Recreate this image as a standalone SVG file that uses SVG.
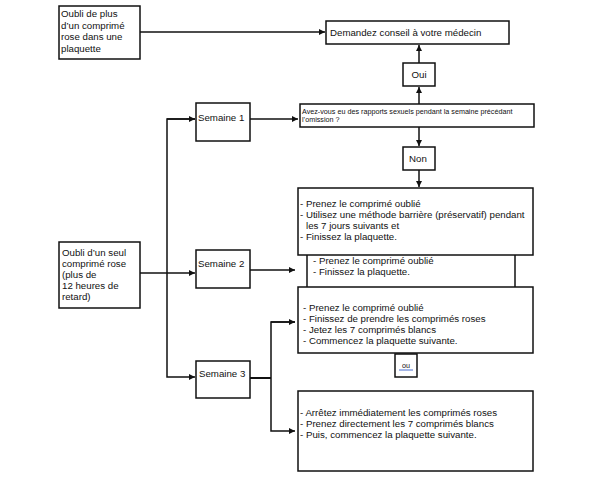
<svg xmlns="http://www.w3.org/2000/svg" width="605" height="494" viewBox="0 0 605 494">
<style>
.box{fill:#fff;stroke:#111;stroke-width:1.5}
.t{font-family:"Liberation Sans",Arial,sans-serif;font-size:9.7px;fill:#111}
.s{font-size:7.2px}
.c{stroke:#111;stroke-width:1.5;fill:none}
.cb{stroke:#111;stroke-width:2;fill:none}
</style>
<defs>
<marker id="ah" viewBox="0 0 10 10" refX="10" refY="5" markerWidth="6" markerHeight="6" markerUnits="userSpaceOnUse" orient="auto">
<path d="M0,0 L10,5 L0,10 z" fill="#111"/>
</marker>
</defs>
<rect width="605" height="494" fill="#fff"/>
<g id="connectors">
<line class="c" x1="140" y1="32" x2="325" y2="32" marker-end="url(#ah)"/>
<line class="c" x1="419" y1="63" x2="419" y2="45" marker-end="url(#ah)"/>
<line class="c" x1="419" y1="104" x2="419" y2="87" marker-end="url(#ah)"/>
<line class="c" x1="419" y1="127" x2="419" y2="146" marker-end="url(#ah)"/>
<line class="c" x1="419" y1="170" x2="419" y2="187" marker-end="url(#ah)"/>
<line class="c" x1="250" y1="119" x2="298" y2="119" marker-end="url(#ah)"/>
<polyline class="c" points="195,119 167,119 167,377 195,377" marker-end="url(#ah)"/>
<line class="c" x1="167" y1="119" x2="195" y2="119" marker-end="url(#ah)"/>
<line class="c" x1="140" y1="273" x2="195" y2="273" marker-end="url(#ah)"/>
<line class="c" x1="250" y1="270" x2="295" y2="270" marker-end="url(#ah)"/>
<line class="cb" x1="250" y1="378" x2="271" y2="378"/>
<polyline class="c" points="295,322 271,322 271,431 295,431" marker-end="url(#ah)"/>
<line class="c" x1="271" y1="322" x2="295" y2="322" marker-end="url(#ah)"/>
</g>
<g id="n_plus">
<rect class="box" x="59" y="6" width="81" height="53"/>
<text class="t" x="61" y="17">Oubli de plus</text>
<text class="t" x="61" y="28.5">d’un comprimé</text>
<text class="t" x="61" y="40">rose dans une</text>
<text class="t" x="61" y="51.5">plaquette</text>
</g>
<g id="n_seul">
<rect class="box" x="59" y="242" width="81" height="66"/>
<text class="t" x="62" y="256">Oubli d’un seul</text>
<text class="t" x="62" y="267">comprimé rose</text>
<text class="t" x="62" y="278">(plus de</text>
<text class="t" x="62" y="289">12 heures de</text>
<text class="t" x="62" y="300">retard)</text>
</g>
<g id="n_medecin">
<rect class="box" x="326" y="21" width="183" height="23"/>
<text class="t" x="330" y="36">Demandez conseil à votre médecin</text>
</g>
<g id="n_oui">
<rect class="box" x="403" y="63" width="32" height="23"/>
<text class="t" x="419" y="78" text-anchor="middle">Oui</text>
</g>
<g id="n_question">
<rect class="box" x="300" y="104" width="234" height="23"/>
<text class="t s" x="302" y="113.5">Avez-vous eu des rapports sexuels pendant la semaine précédant</text>
<text class="t s" x="302" y="122">l’omission ?</text>
</g>
<g id="n_non">
<rect class="box" x="403" y="147" width="32" height="23"/>
<text class="t" x="418" y="162" text-anchor="middle">Non</text>
</g>
<g id="n_s1">
<rect class="box" x="196" y="103" width="54" height="38"/>
<text class="t" x="198" y="121">Semaine 1</text>
</g>
<g id="n_s2">
<rect class="box" x="196" y="250" width="54" height="38"/>
<text class="t" x="198" y="267">Semaine 2</text>
</g>
<g id="n_s3">
<rect class="box" x="196" y="361" width="54" height="37"/>
<text class="t" x="199" y="377">Semaine 3</text>
</g>
<g id="n_res1">
<rect class="box" x="298" y="188" width="235" height="67"/>
<text class="t" x="300" y="207">- Prenez le comprimé oublié</text>
<text class="t" x="300" y="218">- Utilisez une méthode barrière (préservatif) pendant</text>
<text class="t" x="306" y="229">les 7 jours suivants et</text>
<text class="t" x="300" y="240">- Finissez la plaquette.</text>
</g>
<g id="n_res2">
<line class="c" x1="307" y1="255" x2="307" y2="287"/>
<line class="c" x1="515" y1="255" x2="515" y2="287"/>
<text class="t" x="313" y="264">- Prenez le comprimé oublié</text>
<text class="t" x="313" y="275">- Finissez la plaquette.</text>
</g>
<g id="n_res3a">
<rect class="box" x="298" y="287" width="235" height="66"/>
<text class="t" x="303" y="311">- Prenez le comprimé oublié</text>
<text class="t" x="303" y="322">- Finissez de prendre les comprimés roses</text>
<text class="t" x="303" y="333">- Jetez les 7 comprimés blancs</text>
<text class="t" x="303" y="344">- Commencez la plaquette suivante.</text>
</g>
<g id="n_ou">
<rect class="box" x="395" y="354" width="22" height="23"/>
<text class="t s" x="406" y="368" text-anchor="middle" fill="#223">ou</text>
<line x1="399" y1="370" x2="413" y2="370" stroke="#4a6fd0" stroke-width="1"/>
</g>
<g id="n_res3b">
<rect class="box" x="298" y="391" width="235" height="80"/>
<text class="t" x="300" y="416">- Arrêtez immédiatement les comprimés roses</text>
<text class="t" x="300" y="427">- Prenez directement les 7 comprimés blancs</text>
<text class="t" x="300" y="438">- Puis, commencez la plaquette suivante.</text>
</g>
</svg>
